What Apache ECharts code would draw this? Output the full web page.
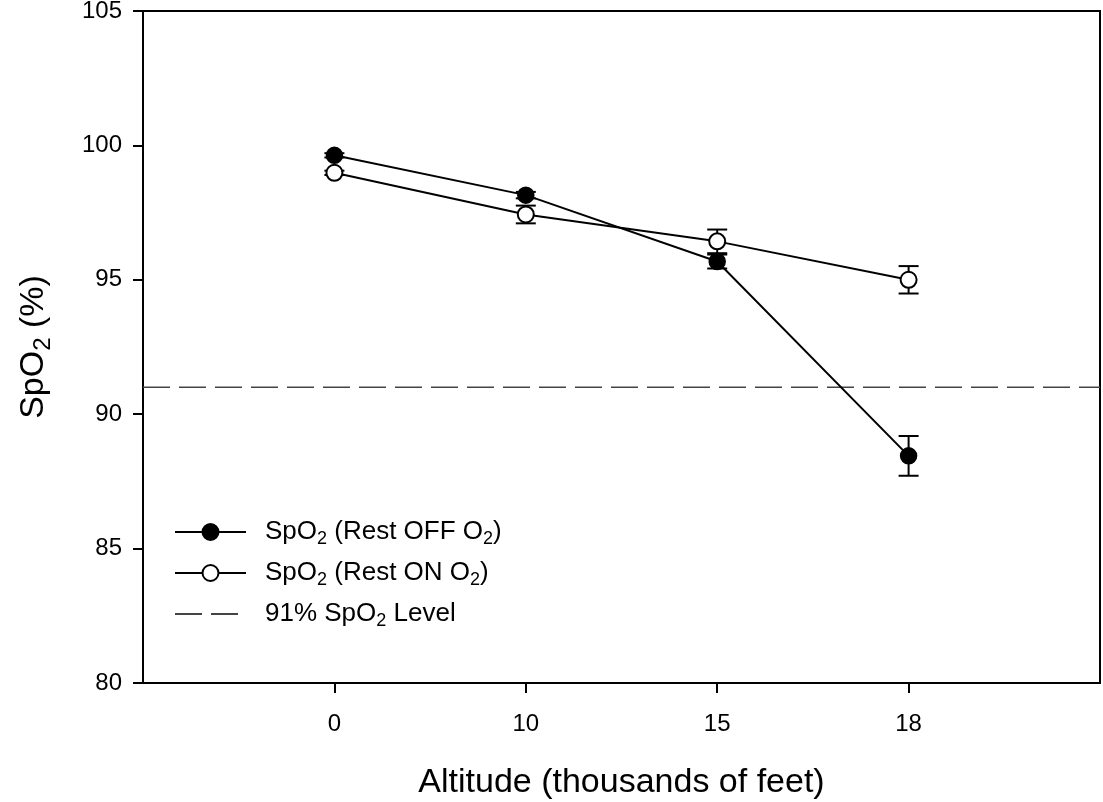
<!DOCTYPE html>
<html>
  <head>
    <meta charset="utf-8" />
    <title>SpO2 vs Altitude</title>
    <script src="https://cdn.jsdelivr.net/npm/echarts@6/dist/echarts.min.js"></script>
  </head>
  <body style="margin: 0">
    <div id="main" style="width: 1103px; height: 802px"></div>
    <script type="text/javascript">
      // altitude categories (thousands of feet), placed at x = 1..4
      var altitudes = ["0", "10", "15", "18"];
      var restOff = [99.63, 98.15, 95.68, 88.45];
      var restOffErr = [0.08, 0.12, 0.26, 0.74];
      var restOn = [98.98, 97.43, 96.43, 95.0];
      var restOnErr = [0.08, 0.33, 0.44, 0.51];
      var threshold = 91;
      var yTicks = [80, 85, 90, 95, 100, 105];

      var font = "Liberation Sans, Arial, sans-serif";
      var myChart = echarts.init(document.getElementById("main"));

      function pts(vals) {
        return vals.map(function (v, i) {
          return [i + 1, v];
        });
      }
      function errs(vals, e) {
        return vals.map(function (v, i) {
          return [i + 1, v - e[i], v + e[i]];
        });
      }

      // draw error bar with caps
      function errorBar(params, api) {
        var lo = api.coord([api.value(0), api.value(1)]);
        var hi = api.coord([api.value(0), api.value(2)]);
        var w = 10;
        var st = { stroke: "#000", lineWidth: 2 };
        return {
          type: "group",
          children: [
            { type: "line", shape: { x1: lo[0], y1: lo[1], x2: hi[0], y2: hi[1] }, style: st },
            { type: "line", shape: { x1: lo[0] - w, y1: lo[1], x2: lo[0] + w, y2: lo[1] }, style: st },
            { type: "line", shape: { x1: hi[0] - w, y1: hi[1], x2: hi[0] + w, y2: hi[1] }, style: st },
          ],
        };
      }

      var subRich = {
        sub: { fontSize: 18, padding: [14, 0, 0, 0], fontFamily: font, color: "#000" },
      };

      var option = {
        animation: false,
        backgroundColor: "#fff",
        textStyle: { fontFamily: font },
        grid: {
          left: 143,
          right: 3,
          top: 11,
          bottom: 119,
          show: true,
          borderColor: "#000",
          borderWidth: 2,
          outerBoundsMode: "none",
        },
        legend: {
          orient: "vertical",
          left: 169,
          top: 514,
          itemWidth: 71,
          itemHeight: 20,
          itemGap: 12,
          data: [
            "SpO{sub|2} (Rest OFF O{sub|2})",
            "SpO{sub|2} (Rest ON O{sub|2})",
            { name: "91% SpO{sub|2} Level", itemStyle: { opacity: 0 } },
          ],
          textStyle: {
            fontSize: 26,
            color: "#000",
            fontFamily: font,
            padding: [0, 0, 0, 14],
            rich: subRich,
          },
        },
        xAxis: {
          type: "value",
          min: 0,
          max: 5,
          interval: 1,
          splitLine: { show: false },
          axisLine: { lineStyle: { color: "#000", width: 2 } },
          axisTick: { length: 10, lineStyle: { color: "#000", width: 2 }, customValues: [1, 2, 3, 4] },
          axisLabel: {
            customValues: [1, 2, 3, 4],
            formatter: function (v) {
              return altitudes[v - 1] || "";
            },
            fontSize: 24,
            color: "#000",
            margin: 29,
          },
          name: "Altitude (thousands of feet)",
          nameLocation: "middle",
          nameGap: 83,
          nameTextStyle: { fontSize: 34, color: "#000" },
        },
        yAxis: {
          type: "value",
          min: 80,
          max: 105,
          interval: 5,
          splitLine: { show: false },
          axisLine: { show: true, lineStyle: { color: "#000", width: 2 } },
          axisTick: { show: true, length: 10, lineStyle: { color: "#000", width: 2 } },
          axisLabel: {
            fontSize: 24,
            color: "#000",
            margin: 21,
            customValues: yTicks,
          },
          name: "SpO{sub|2} (%)",
          nameLocation: "middle",
          nameGap: 88,
          nameTextStyle: {
            fontSize: 34,
            color: "#000",
            rich: { sub: { fontSize: 24, padding: [18, 0, 0, 0], color: "#000" } },
          },
        },
        series: [
          {
            type: "custom",
            renderItem: errorBar,
            data: errs(restOff, restOffErr),
            z: 1,
            silent: true,
          },
          {
            type: "custom",
            renderItem: errorBar,
            data: errs(restOn, restOnErr),
            z: 1,
            silent: true,
          },
          {
            name: "91% SpO{sub|2} Level",
            type: "line",
            data: [
              [0, threshold],
              [5, threshold],
            ],
            symbol: "none",
            lineStyle: { color: "#444", width: 1.6, type: [27, 9] },
            itemStyle: { color: "rgba(0,0,0,0)" },
            z: 2,
          },
          {
            name: "SpO{sub|2} (Rest OFF O{sub|2})",
            type: "line",
            data: pts(restOff),
            symbol: "circle",
            symbolSize: 16,
            lineStyle: { color: "#000", width: 2 },
            itemStyle: { color: "#000", borderColor: "#000", borderWidth: 1.5 },
            z: 3,
          },
          {
            name: "SpO{sub|2} (Rest ON O{sub|2})",
            type: "line",
            data: pts(restOn),
            symbol: "circle",
            symbolSize: 16,
            lineStyle: { color: "#000", width: 2 },
            itemStyle: { color: "#fff", borderColor: "#000", borderWidth: 2 },
            z: 4,
          },
        ],
      };
      myChart.setOption(option);
    </script>
  </body>
</html>
